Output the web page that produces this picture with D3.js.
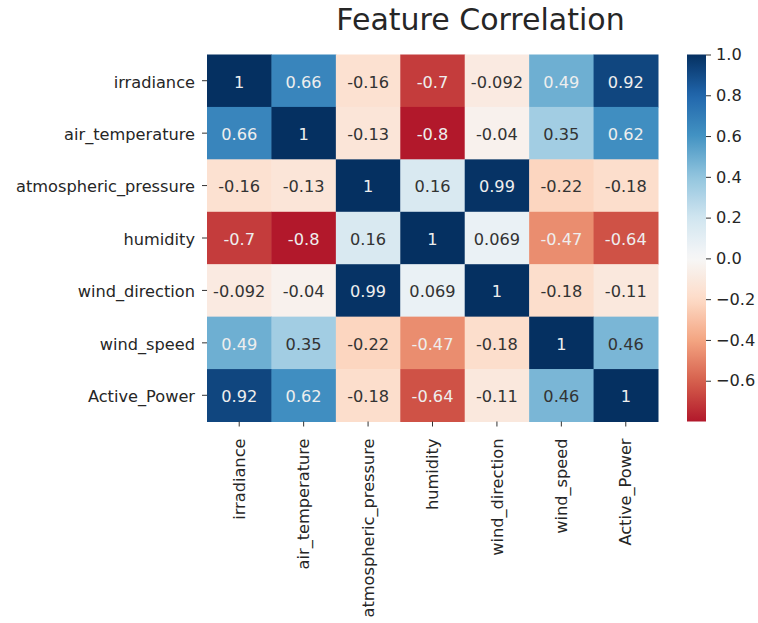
<!DOCTYPE html>
<html>
<head>
<meta charset="utf-8">
<title>Feature Correlation</title>
<style>
  body { margin: 0; background: #fff; }
  svg text { font-family: "DejaVu Sans", sans-serif; }
</style>
<script src="https://d3js.org/d3.v7.min.js"></script>
</head>
<body>
<svg id="chart" width="758" height="623"></svg>
<script>
// feature names (rows and columns)
var features = ["irradiance", "air_temperature", "atmospheric_pressure", "humidity",
                "wind_direction", "wind_speed", "Active_Power"];

// correlation rows, one per feature
var irradiance     = [1, 0.66, -0.16, -0.7, -0.092, 0.49, 0.92];
var airTemperature = [0.66, 1, -0.13, -0.8, -0.04, 0.35, 0.62];
var atmPressure    = [-0.16, -0.13, 1, 0.16, 0.99, -0.22, -0.18];
var humidity       = [-0.7, -0.8, 0.16, 1, 0.069, -0.47, -0.64];
var windDirection  = [-0.092, -0.04, 0.99, 0.069, 1, -0.18, -0.11];
var windSpeed      = [0.49, 0.35, -0.22, -0.47, -0.18, 1, 0.46];
var activePower    = [0.92, 0.62, -0.18, -0.64, -0.11, 0.46, 1];

var colorbarTicks = [1.0, 0.8, 0.6, 0.4, 0.2, 0.0, -0.2, -0.4, -0.6];
var titleText = "Feature Correlation";

var matrix = [irradiance, airTemperature, atmPressure, humidity, windDirection, windSpeed, activePower];

var cells = [];
matrix.forEach(function(row, i) {
    row.forEach(function(v, j) {
        cells.push({row: features[i], col: features[j], value: v});
    });
});

var svg = d3.select("#chart");
var plotLeft = 207, plotRight = 658, plotTop = 54.5, plotBottom = 421.5;
var fontSize = 16.2;

var x = d3.scaleBand().domain(features).range([plotLeft, plotRight]);
var y = d3.scaleBand().domain(features).range([plotTop, plotBottom]);

var vmin = d3.min(cells, function(d) { return d.value; });
var vmax = d3.max(cells, function(d) { return d.value; });

// colour map centred on zero, like seaborn's heatmap(center=0)
var vrange = Math.max(vmax, -vmin);
var color = d3.scaleSequential(d3.piecewise(d3.interpolateRgb, d3.schemeRdBu[11]))
    .domain([-vrange, vrange]);

function luminance(c) {
    var rgb = d3.rgb(c);
    var ch = [rgb.r, rgb.g, rgb.b].map(function(v) {
        v = v / 255;
        return v <= 0.03928 ? v / 12.92 : Math.pow((v + 0.055) / 1.055, 2.4);
    });
    return 0.2126 * ch[0] + 0.7152 * ch[1] + 0.0722 * ch[2];
}

var fmt = function(v) { return d3.format(".2~g")(v).replace("\u2212", "-"); };

svg.append("g")
    .selectAll("rect")
    .data(cells)
    .enter()
    .append("rect")
    .attr("x", function(d) { return x(d.col); })
    .attr("y", function(d) { return y(d.row); })
    .attr("width", x.bandwidth() + 0.5)
    .attr("height", y.bandwidth() + 0.5)
    .attr("fill", function(d) { return color(d.value); });

svg.append("g")
    .selectAll("text")
    .data(cells)
    .enter()
    .append("text")
    .attr("x", function(d) { return x(d.col) + x.bandwidth() / 2; })
    .attr("y", function(d) { return y(d.row) + y.bandwidth() / 2; })
    .attr("dy", "0.42em")
    .attr("text-anchor", "middle")
    .attr("font-size", fontSize)
    .attr("fill", function(d) { return luminance(color(d.value)) > 0.408 ? "#333333" : "#eeeeee"; })
    .text(function(d) { return fmt(d.value); });

// y axis
var yAxis = svg.append("g")
    .attr("transform", "translate(" + plotLeft + ",0)")
    .call(d3.axisLeft(y).tickSize(5).tickPadding(7));
yAxis.select(".domain").remove();
yAxis.selectAll("line").attr("stroke", "#333");
yAxis.selectAll("text").attr("font-size", fontSize).attr("fill", "#262626")
    .attr("font-family", "DejaVu Sans").attr("dy", "0.42em");

// x axis, labels rotated
var xAxis = svg.append("g")
    .attr("transform", "translate(0," + plotBottom + ")")
    .call(d3.axisBottom(x).tickSize(5).tickPadding(7));
xAxis.select(".domain").remove();
xAxis.selectAll("line").attr("stroke", "#333");
xAxis.selectAll("text")
    .attr("font-size", fontSize)
    .attr("fill", "#262626")
    .attr("font-family", "DejaVu Sans")
    .attr("transform", "rotate(-90)")
    .attr("text-anchor", "end")
    .attr("x", -17)
    .attr("y", 0)
    .attr("dy", "0.35em");

// colorbar
var cbLeft = 687, cbWidth = 19;
var cbScale = d3.scaleLinear().domain([vmin, vmax]).range([plotBottom, plotTop]);
var defs = svg.append("defs");
var grad = defs.append("linearGradient")
    .attr("id", "cbGrad")
    .attr("x1", 0).attr("y1", 1).attr("x2", 0).attr("y2", 0);
d3.range(0, 1.0001, 0.02).forEach(function(t) {
    grad.append("stop")
        .attr("offset", t)
        .attr("stop-color", color(vmin + t * (vmax - vmin)));
});
svg.append("rect")
    .attr("x", cbLeft)
    .attr("y", plotTop)
    .attr("width", cbWidth)
    .attr("height", plotBottom - plotTop)
    .attr("fill", "url(#cbGrad)");

var cbAxis = svg.append("g")
    .attr("transform", "translate(" + (cbLeft + cbWidth) + ",0)")
    .call(d3.axisRight(cbScale).tickValues(colorbarTicks).tickFormat(d3.format(".1f"))
        .tickSize(5).tickPadding(5));
cbAxis.select(".domain").remove();
cbAxis.selectAll("line").attr("stroke", "#333");
cbAxis.selectAll("text").attr("font-size", fontSize).attr("fill", "#262626")
    .attr("font-family", "DejaVu Sans");

// title
svg.append("text")
    .attr("x", 480.5)
    .attr("y", 30)
    .attr("text-anchor", "middle")
    .attr("font-size", 30)
    .attr("fill", "#262626")
    .text(titleText);
</script>
</body>
</html>
